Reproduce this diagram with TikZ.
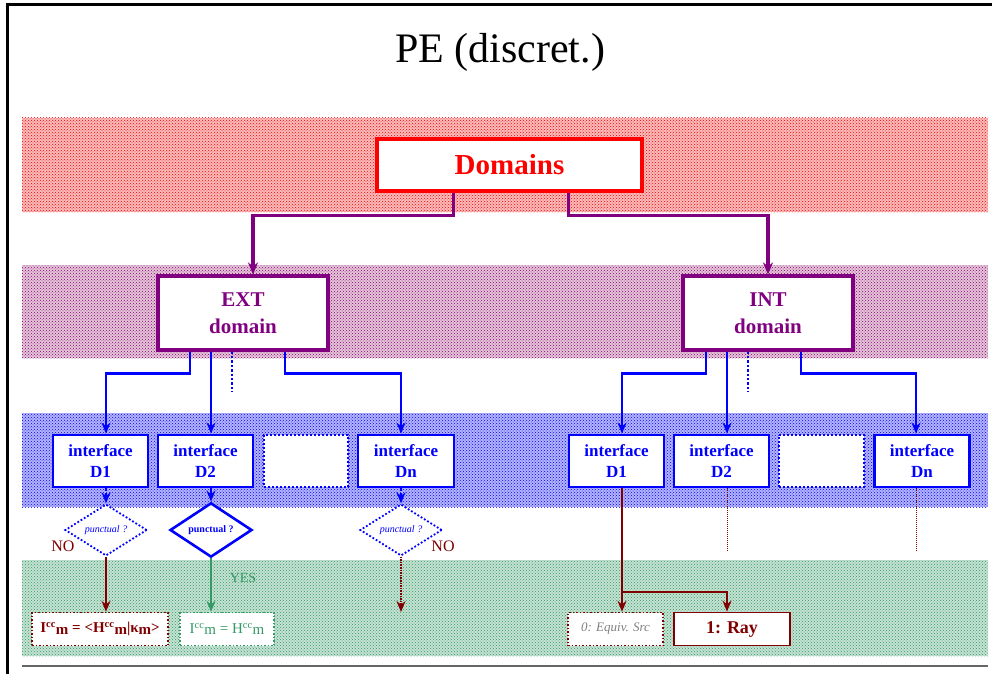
\documentclass[tikz,border=0pt]{standalone}
\usepackage{fontspec}
\setmainfont{Liberation Serif}
\usetikzlibrary{arrows.meta,shapes.geometric,patterns,calc}
\definecolor{dred}{RGB}{128,0,0}
\definecolor{purp}{RGB}{128,0,128}
\definecolor{bblue}{RGB}{0,0,255}
\definecolor{grn}{RGB}{51,153,102}
\definecolor{bandred}{RGB}{246,160,160}
\definecolor{bandpurp}{RGB}{215,165,190}
\definecolor{bandblue}{RGB}{155,155,250}
\definecolor{bandgrn}{RGB}{165,210,185}
\tikzset{
  domainbox/.style={draw=red,line width=3.2pt,fill=white,minimum width=265pt,minimum height=52pt,text=red,font=\fontsize{29}{32}\selectfont\bfseries},
  extbox/.style={draw=purp,line width=3.2pt,fill=white,minimum width=170pt,minimum height=74pt,text=purp,align=center,font=\fontsize{21}{25}\selectfont\bfseries},
  ifbox/.style={draw=bblue,line width=2.8pt,fill=white,minimum width=95pt,minimum height=52pt,text=bblue,align=center,font=\fontsize{17}{21}\selectfont\bfseries},
  emptybox/.style={draw=bblue,line width=2pt,dotted,fill=white,minimum width=84pt,minimum height=52pt},
  pdiam/.style={diamond,draw=bblue,fill=white,minimum width=82pt,minimum height=42pt,inner sep=0pt,text=bblue},
  resbox/.style={fill=white,minimum height=33pt,inner sep=2pt},
  parrow/.style={draw=purp,line width=3.2pt,-{Stealth[length=12pt,width=10pt]}},
  barrow/.style={draw=bblue,line width=2.8pt,-{Stealth[length=11pt,width=9pt]}},
  bline/.style={draw=bblue,line width=2.4pt},
  rarrow/.style={draw=dred,line width=1.6pt,-{Stealth[length=11pt,width=9pt]}},
  lbl/.style={inner sep=0pt},
}
\begin{document}
\begin{tikzpicture}[x=1pt,y=-1pt]
\useasboundingbox (0,0) rectangle (992,674);
% frame
\draw[line width=3pt] (7,674) -- (7,5) -- (992,5);
\draw[gray!80!black,line width=1.2pt] (22,666) -- (988,666);
% title
\node[lbl,font=\fontsize{42}{46}\selectfont] (title) at (500,52) {PE (discret.)};
% bands
\fill[bandred!70] (22,118) rectangle (988,212);
\fill[pattern=crosshatch dots,pattern color=red] (22,118) rectangle (988,212);
\fill[bandpurp!65] (22,265) rectangle (988,358);
\fill[pattern=crosshatch dots,pattern color=purp] (22,265) rectangle (988,358);
\fill[bandblue!75] (22,413) rectangle (988,507);
\fill[pattern=crosshatch dots,pattern color=bblue] (22,413) rectangle (988,507);
\fill[bandgrn!65] (22,560) rectangle (988,656);
\fill[pattern=crosshatch dots,pattern color=grn] (22,560) rectangle (988,656);
% nodes
\node[domainbox] (dom) at (509.5,165) {Domains};
\node[extbox] (ext) at (243,313) {EXT\\[2pt]domain};
\node[extbox] (int) at (768,313) {INT\\[2pt]domain};
\node[ifbox] (e1) at (100.5,461) {interface\\D1};
\node[ifbox] (e2) at (205.5,461) {interface\\D2};
\node[emptybox] (e3) at (306,461) {};
\node[ifbox,minimum width=96pt] (en) at (406,461) {interface\\Dn};
\node[ifbox] (i1) at (616.5,461) {interface\\D1};
\node[ifbox] (i2) at (721.5,461) {interface\\D2};
\node[emptybox,minimum width=85pt] (i3) at (821.5,461) {};
\node[ifbox] (i4) at (922,461) {interface\\Dn};
% diamonds
\node[pdiam,dotted,line width=1.8pt,font=\fontsize{10}{11}\selectfont\itshape] (d1) at (106,530) {punctual ?};
\node[pdiam,line width=2.6pt,font=\fontsize{10}{11}\selectfont\bfseries] (d2) at (211,530) {punctual ?};
\node[pdiam,dotted,line width=1.8pt,font=\fontsize{10}{11}\selectfont\itshape] (dn) at (401,530) {punctual ?};
% result boxes
\node[resbox,draw=dred,dotted,line width=1.5pt,minimum width=136pt,text=dred,font=\fontsize{15}{17}\selectfont\bfseries] (f1) at (100,629)
  {I\textsuperscript{cc}\raisebox{-.25ex}{m} = <H\textsuperscript{cc}\raisebox{-.25ex}{m}|κ\raisebox{-.25ex}{m}>};
\node[resbox,draw=grn,dotted,line width=1.5pt,minimum width=94pt,text=grn,font=\fontsize{15}{17}\selectfont] (f2) at (227,629)
  {I\textsuperscript{cc}\raisebox{-.25ex}{m} = H\textsuperscript{cc}\raisebox{-.25ex}{m}};
\node[resbox,draw=dred,dotted,line width=1.5pt,minimum width=95pt,text=gray,font=\fontsize{13}{15}\selectfont\itshape] (r0) at (615.5,629) {0: Equiv. Src};
\node[resbox,draw=dred,line width=1.8pt,minimum width=116pt,text=dred,font=\fontsize{18}{20}\selectfont\bfseries] (r1) at (732,629) {1: Ray};
% labels
\node[lbl,text=dred,font=\fontsize{16}{17}\selectfont] (no1) at (63,546) {NO};
\node[lbl,text=dred,font=\fontsize{16}{17}\selectfont] (no2) at (443,546) {NO};
\node[lbl,text=grn,font=\fontsize{14}{15}\selectfont] (yes) at (243,578) {YES};
% connectors: domains
\draw[parrow] ([xshift=-56pt]dom.south) -- ++(0,23) -| ([xshift=10pt]ext.north);
\draw[parrow] ([xshift=59pt]dom.south) -- ++(0,23) -| (int.north);
% ext children
\draw[barrow] ([xshift=-53pt]ext.south) -- ++(0,22) -| ([xshift=5.5pt]e1.north);
\draw[barrow] ([xshift=-32pt]ext.south) -- ([xshift=5.5pt]e2.north);
\draw[bline,dotted] ([xshift=-11pt]ext.south) -- ++(0,40);
\draw[barrow] ([xshift=42pt]ext.south) -- ++(0,22) -| ([xshift=-5pt]en.north);
% int children
\draw[barrow] ([xshift=-62pt]int.south) -- ++(0,22) -| ([xshift=5.5pt]i1.north);
\draw[barrow] ([xshift=-41pt]int.south) -- ([xshift=5.5pt]i2.north);
\draw[bline,dotted] ([xshift=-20pt]int.south) -- ++(0,40);
\draw[barrow] ([xshift=33pt]int.south) -- ++(0,22) -| ([xshift=-6pt]i4.north);
% ext interfaces to diamonds
\draw[barrow,dotted,line width=1.8pt] ([xshift=5.5pt]e1.south) -- (d1.north);
\draw[barrow] ([xshift=5.5pt]e2.south) -- (d2.north);
\draw[barrow,dotted,line width=1.8pt] ([xshift=-5pt]en.south) -- (dn.north);
% diamonds to results
\draw[rarrow] (d1.south) -- (d1.south |- f1.north);
\draw[rarrow,draw=grn] (d2.south) -- (d2.south |- f2.north);
\coordinate (dnend) at (401,612);
\draw[rarrow,densely dotted] (dn.south) -- (dnend);
% int results
\coordinate (split) at (622,592);
\draw[rarrow,-] ([xshift=5.5pt]i1.south) -- (split);
\draw[rarrow] (split) -- (split |- r0.north);
\draw[rarrow] (split) -| ([xshift=-5pt]r1.north);
\draw[draw=dred,line width=1pt,densely dotted] ([xshift=5.5pt]i2.south) -- ++(0,63);
\draw[draw=dred,line width=1pt,densely dotted] ([xshift=-6pt]i4.south) -- ++(0,63);
\end{tikzpicture}
\end{document}
